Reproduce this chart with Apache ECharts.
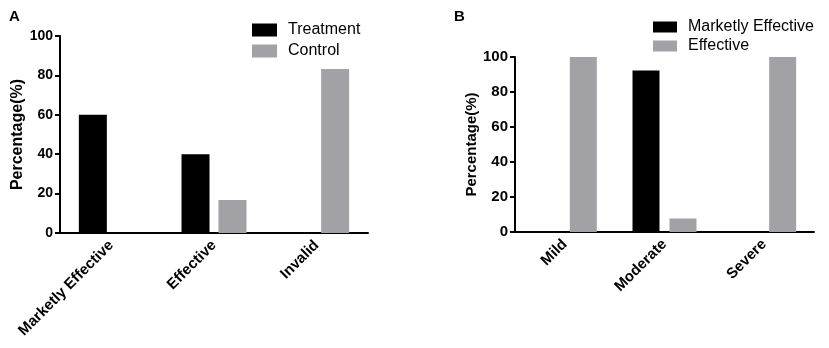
<!DOCTYPE html>
<html>
<head>
<meta charset="utf-8">
<script src="https://cdn.jsdelivr.net/npm/echarts@6/dist/echarts.min.js"></script>
<style>
html,body{margin:0;padding:0;background:#fff;}
#chart{width:829px;height:348px;}
</style>
</head>
<body>
<div id="chart"></div>
<script>
// panel A
var catsA = ['Marketly Effective', 'Effective', 'Invalid'];
var treatment = [60, 40, 0];
var control = [0, 16.7, 83.3];
// panel B
var catsB = ['Mild', 'Moderate', 'Severe'];
var marketly = [0, 92.3, 0];
var effective = [100, 7.7, 100];
var yTicks = [0, 20, 40, 60, 80, 100];

var FONT = 'Liberation Sans, Arial, sans-serif';
var BLACK = '#000000';
var GREY = '#a2a2a6';

function yAxisOf(idx, gap, nameSize, labelSize) {
	return {
		gridIndex: idx,
		type: 'value',
		min: yTicks[0],
		max: yTicks[yTicks.length - 1],
		interval: 20,
		name: 'Percentage(%)',
		nameLocation: 'middle',
		nameGap: gap,
		nameTextStyle: {fontFamily: FONT, fontWeight: 'bold', fontSize: nameSize, color: '#000'},
		axisLine: {show: true, lineStyle: {color: '#000', width: 2}},
		axisTick: {show: true, length: 5, lineStyle: {color: '#000', width: 2}},
		axisLabel: {fontFamily: FONT, fontWeight: 'bold', fontSize: labelSize, color: '#000', margin: 7},
		splitLine: {show: false}
	};
}

function xAxisOf(idx, cats) {
	return {
		gridIndex: idx,
		type: 'category',
		data: cats,
		axisLine: {lineStyle: {color: '#000', width: 2}},
		axisTick: {alignWithLabel: true, length: 5, lineStyle: {color: '#000', width: 2}},
		axisLabel: {rotate: 45, fontFamily: FONT, fontWeight: 'bold', fontSize: 15, color: '#000', margin: 10, interval: 0}
	};
}

function legendOf(names, left, top, w, h, gap) {
	return {
		data: names,
		orient: 'vertical',
		left: left,
		top: top,
		itemWidth: w,
		itemHeight: h,
		itemGap: gap,
		icon: 'rect',
		textStyle: {fontFamily: FONT, fontSize: 16, color: '#000', padding: [0, 0, 0, 6]}
	};
}

var chart = echarts.init(document.getElementById('chart'));
var option = {
	backgroundColor: '#fff',
	animation: false,
	title: [
		{text: 'A', left: 4, top: 4, textStyle: {fontFamily: FONT, fontWeight: 'bold', fontSize: 15, color: '#000'}},
		{text: 'B', left: 449, top: 4, textStyle: {fontFamily: FONT, fontWeight: 'bold', fontSize: 15, color: '#000'}}
	],
	legend: [
		legendOf(['Treatment', 'Control'], 247, 17, 25, 13, 5),
		legendOf(['Marketly Effective', 'Effective'], 648, 14, 24, 11, 3)
	],
	grid: [
		{left: 60, right: 461, top: 36, bottom: 115},
		{left: 515, right: 15, top: 57, bottom: 116}
	],
	xAxis: [xAxisOf(0, catsA), xAxisOf(1, catsB)],
	yAxis: [yAxisOf(0, 32, 16, 14), yAxisOf(1, 34, 15, 15)],
	series: [
		{name: 'Treatment', type: 'bar', xAxisIndex: 0, yAxisIndex: 0, data: treatment, barWidth: 28, barGap: '32%', itemStyle: {color: BLACK}},
		{name: 'Control', type: 'bar', xAxisIndex: 0, yAxisIndex: 0, data: control, barWidth: 28, barGap: '32%', itemStyle: {color: GREY}},
		{name: 'Marketly Effective', type: 'bar', xAxisIndex: 1, yAxisIndex: 1, data: marketly, barWidth: 27, barGap: '37%', itemStyle: {color: BLACK}},
		{name: 'Effective', type: 'bar', xAxisIndex: 1, yAxisIndex: 1, data: effective, barWidth: 27, barGap: '37%', itemStyle: {color: GREY}}
	]
};
chart.setOption(option);
</script>
</body>
</html>
